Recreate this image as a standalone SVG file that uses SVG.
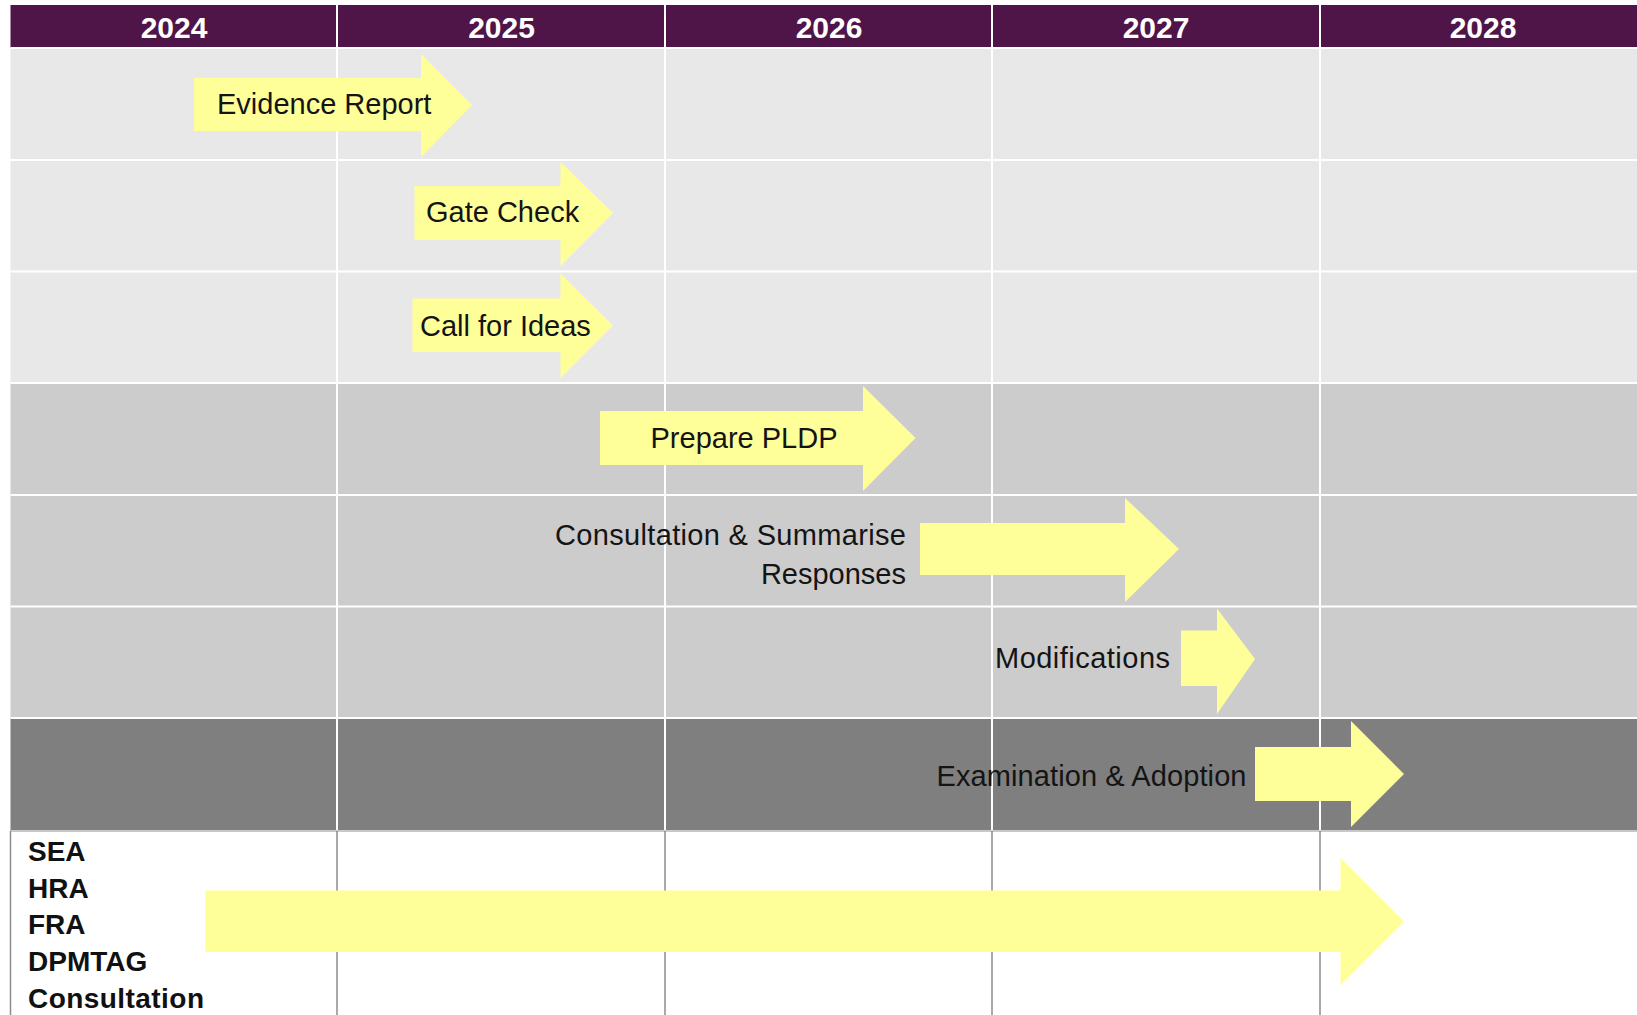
<svg xmlns="http://www.w3.org/2000/svg" width="1637" height="1015" viewBox="0 0 1637 1015">
<style>
.hdr{fill:#501548}
.yr{font-family:"Liberation Sans",Arial,sans-serif;font-weight:bold;font-size:30px;fill:#ffffff;text-anchor:middle}
.r1{fill:#e8e8e8}
.r2{fill:#cccccc}
.r3{fill:#7f7f7f}
.wl{stroke:#ffffff;stroke-width:2}
.gl{stroke:#8c8c8c;stroke-width:1.5}
.arrow{fill:#ffff99}
.lbl{font-family:"Liberation Sans",Arial,sans-serif;font-size:29px;fill:#141414}
.side{font-family:"Liberation Sans",Arial,sans-serif;font-weight:bold;font-size:28px;fill:#111111}
</style>
<rect width="1637" height="1015" fill="#ffffff"/>
<g id="grid">
<rect class="hdr" x="10.5" y="5" width="1627" height="43"/>
<rect class="r1" x="10.5" y="48" width="1627" height="335"/>
<rect class="r2" x="10.5" y="383" width="1627" height="335"/>
<rect class="r3" x="10.5" y="718" width="1627" height="113"/>
<g class="wl">
<line x1="337" y1="5" x2="337" y2="831"/>
<line x1="665" y1="5" x2="665" y2="831"/>
<line x1="992" y1="5" x2="992" y2="831"/>
<line x1="1320" y1="5" x2="1320" y2="831"/>
<line x1="10.5" y1="48" x2="1637" y2="48"/>
<line x1="10.5" y1="160" x2="1637" y2="160"/>
<line x1="10.5" y1="271.5" x2="1637" y2="271.5"/>
<line x1="10.5" y1="383" x2="1637" y2="383"/>
<line x1="10.5" y1="495" x2="1637" y2="495"/>
<line x1="10.5" y1="606.5" x2="1637" y2="606.5"/>
<line x1="10.5" y1="718" x2="1637" y2="718"/>
</g>
<line x1="10.5" y1="831" x2="1637" y2="831" stroke="#c8c8c8" stroke-width="2"/>
<g class="gl">
<line x1="10.5" y1="831" x2="10.5" y2="1015"/>
<line x1="337" y1="831" x2="337" y2="1015"/>
<line x1="665" y1="831" x2="665" y2="1015"/>
<line x1="992" y1="831" x2="992" y2="1015"/>
<line x1="1320" y1="831" x2="1320" y2="1015"/>
</g>
<text class="yr" x="174" y="38">2024</text>
<text class="yr" x="501.5" y="38">2025</text>
<text class="yr" x="829" y="38">2026</text>
<text class="yr" x="1156" y="38">2027</text>
<text class="yr" x="1483" y="38">2028</text>
</g>
<g id="connectors"></g>
<g id="evidence-report">
<polygon class="arrow" points="194,78 421,78 421,54 472,105 421,157 421,131 194,131"/>
<text class="lbl" x="217" y="114">Evidence Report</text>
</g>
<g id="gate-check">
<polygon class="arrow" points="414.5,186 560.5,186 560.5,162 613,213 560.5,266 560.5,240 414.5,240"/>
<text class="lbl" x="426" y="222">Gate Check</text>
</g>
<g id="call-for-ideas">
<polygon class="arrow" points="412.5,298.5 560.5,298.5 560.5,273.5 613,325.5 560.5,378 560.5,352 412.5,352"/>
<text class="lbl" x="420" y="336">Call for Ideas</text>
</g>
<g id="prepare-pldp">
<polygon class="arrow" points="600,411 863,411 863,386 915.5,438 863,491 863,465 600,465"/>
<text class="lbl" x="744" y="448" text-anchor="middle">Prepare PLDP</text>
</g>
<g id="consultation-summarise">
<polygon class="arrow" points="920,523 1125,523 1125,498 1179,549 1125,602 1125,575 920,575"/>
<text class="lbl" x="555" y="545" textLength="351" lengthAdjust="spacing">Consultation &amp; Summarise</text>
<text class="lbl" x="906" y="584" text-anchor="end">Responses</text>
</g>
<g id="modifications">
<polygon class="arrow" points="1181,630.5 1217,630.5 1217,608.5 1255,659 1217,714 1217,686 1181,686"/>
<text class="lbl" x="995" y="668" textLength="175" lengthAdjust="spacing">Modifications</text>
</g>
<g id="examination-adoption">
<polygon class="arrow" points="1255,747 1351,747 1351,721 1404,774 1351,827 1351,801 1255,801"/>
<text class="lbl" x="936.5" y="786" textLength="310" lengthAdjust="spacing">Examination &amp; Adoption</text>
</g>
<g id="assessments">
<polygon class="arrow" points="205.5,890.5 1340.5,890.5 1340.5,858 1404,921.5 1340.5,985 1340.5,952 205.5,952"/>
<text class="side" x="28" y="861">SEA</text>
<text class="side" x="28" y="898">HRA</text>
<text class="side" x="28" y="934">FRA</text>
<text class="side" x="28" y="971">DPMTAG</text>
<text class="side" x="28" y="1008" textLength="176" lengthAdjust="spacing">Consultation</text>
</g>
</svg>
